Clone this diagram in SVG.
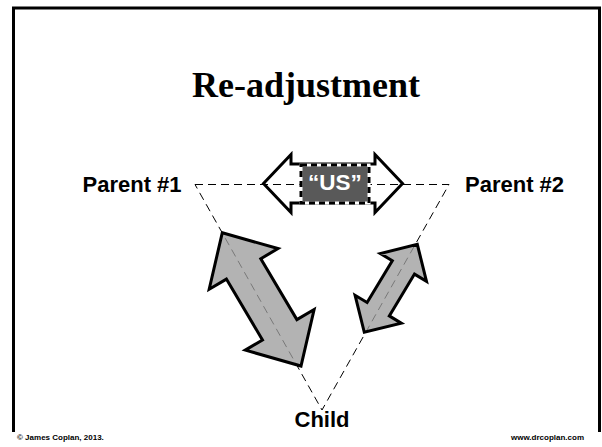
<svg xmlns="http://www.w3.org/2000/svg" width="602" height="447" viewBox="0 0 602 447">
<style>
.lbl{font-family:"Liberation Sans",Arial,sans-serif;font-weight:bold;font-size:22px;fill:#000}
.foot{font-family:"Liberation Sans",Arial,sans-serif;font-weight:bold;font-size:8px;fill:#000}
.dash{fill:none;stroke:#000;stroke-width:1;stroke-dasharray:8 5}
.garrow{fill:#9c9c9c;fill-opacity:0.77;stroke:#000;stroke-width:3;stroke-linejoin:miter}
</style>
<rect width="602" height="447" fill="#fff"/>
<path d="M13.5,432 V8 H599.5 V432" fill="none" stroke="#000" stroke-width="3"/>
<g id="title"><text x="306" y="97" text-anchor="middle" font-family="'Liberation Serif','Times New Roman',serif" font-weight="bold" font-size="36">Re-adjustment</text></g>
<g id="connectors">
<path class="dash" d="M195,184.5 H449 L322,410 Z"/>
<polygon class="garrow" points="222.3,232.7 278,248.6 260.8,258.7 296.9,319.6 314.1,309.5 301,366 245.3,350.1 262.5,340 226.4,279.1 209.2,289.2"/>
<polygon class="garrow" points="417.3,244.3 426.5,281.3 414.5,274.1 389.3,315.9 401.3,323.1 364.3,332.3 355.1,295.3 367.1,302.5 392.3,260.7 380.3,253.5"/>
<polygon points="263.5,183.5 291,154.5 291,164 375,164 375,154.5 402.5,183.5 375,212.5 375,203 291,203 291,212.5" fill="none" stroke="#000" stroke-width="3" stroke-linejoin="miter"/>
</g>
<g id="us">
<rect x="301" y="165" width="68" height="38" fill="#595959" stroke="#fff" stroke-width="3"/>
<rect x="301" y="165" width="68" height="38" fill="none" stroke="#000" stroke-width="3" stroke-dasharray="6 4"/>
<text x="335" y="190" text-anchor="middle" class="lbl" style="fill:#fff;font-size:22.5px">“US”</text>
</g>
<g id="parent1"><text x="82.5" y="192" class="lbl">Parent #1</text></g>
<g id="parent2"><text x="465" y="192" class="lbl">Parent #2</text></g>
<g id="child"><text x="322" y="427" text-anchor="middle" class="lbl">Child</text></g>
<g id="footer">
<text x="17" y="440" class="foot">© James Coplan, 2013.</text>
<text x="584" y="440" text-anchor="end" class="foot">www.drcoplan.com</text>
</g>
</svg>
